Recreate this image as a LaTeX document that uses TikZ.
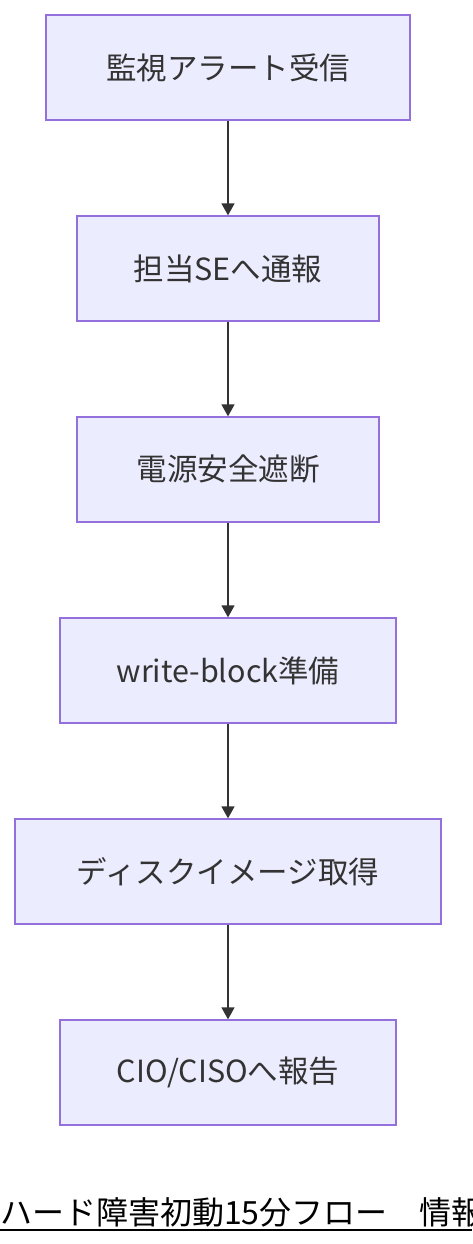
\documentclass[tikz,border=0pt]{standalone}
\usepackage{fontspec}
\setmainfont{Noto Sans CJK JP}
\newfontfamily\jpfont{Noto Sans CJK JP}
\usetikzlibrary{arrows.meta}
\definecolor{boxfill}{HTML}{ECECFF}
\definecolor{boxline}{HTML}{9370DB}
\definecolor{arrowc}{HTML}{333333}
\begin{document}
\begin{tikzpicture}[x=1pt,y=-1pt,
  stepbox/.style={draw=boxline,fill=boxfill,line width=1.3pt,minimum height=105pt,inner sep=0pt,font=\fontsize{30.5}{33}\selectfont\jpfont,text=arrowc},
  flow/.style={draw=arrowc,line width=1.4pt,-{Triangle[length=12pt,width=13pt]}}]
\useasboundingbox (0,0) rectangle (472,1244);
\node[stepbox,minimum width=364pt] (a) at (228,67.5) {監視アラート受信};
\node[stepbox,minimum width=302pt] (b) at (228,268.5) {担当SEへ通報};
\node[stepbox,minimum width=302pt] (c) at (228,469.5) {電源安全遮断};
\node[stepbox,minimum width=336pt] (d) at (228,670.5) {write-block準備};
\node[stepbox,minimum width=426pt] (e) at (228,871.5) {ディスクイメージ取得};
\node[stepbox,minimum width=336pt] (f) at (228,1072.5) {CIO/CISOへ報告};
\draw[flow] (a) -- (b);
\draw[flow] (b) -- (c);
\draw[flow] (c) -- (d);
\draw[flow] (d) -- (e);
\draw[flow] (e) -- (f);
\node[anchor=base west,inner sep=0pt,font=\fontsize{32}{35}\selectfont\jpfont,text=black] (t) at (0,1224) {ハード障害初動15分フロー　情報};
\coordinate (u1) at (0,1230);
\coordinate (u2) at (472,1230);
\draw[line width=2pt,black] (u1) -- (u2);
\end{tikzpicture}
\end{document}
